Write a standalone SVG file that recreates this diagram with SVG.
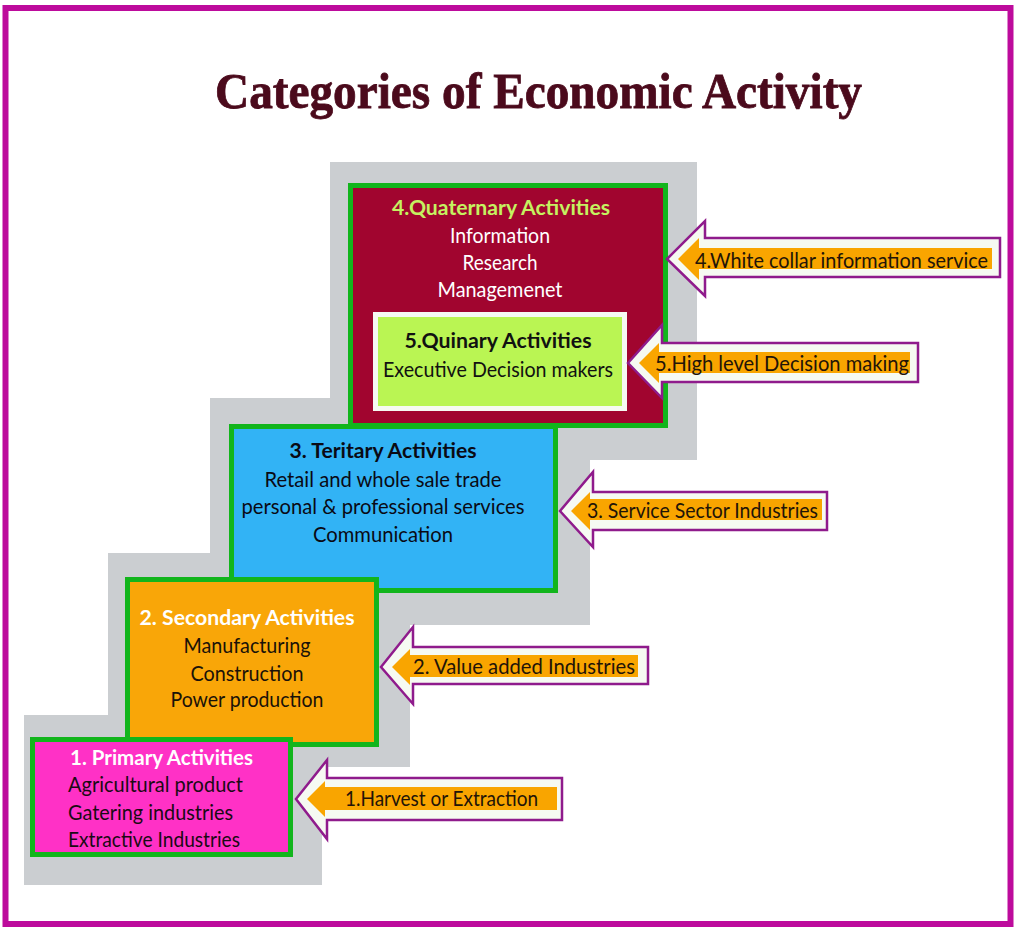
<svg xmlns="http://www.w3.org/2000/svg" width="1016" height="929" viewBox="0 0 1016 929">
<style>
.box{stroke:#12B51C;stroke-width:5}
.t{font-family:Lato,"Open Sans","Noto Sans",sans-serif;font-size:21px}
.b{font-weight:bold}
.c{text-anchor:middle}
.arr{fill:#F6FAF2;stroke:#8F1B8C;stroke-width:2.5;stroke-linejoin:miter}
.org{fill:#F9A500}
.at{font-family:Lato,"Open Sans","Noto Sans",sans-serif;font-size:21px;fill:#221408}
</style>
<rect x="0" y="0" width="1016" height="929" fill="#FFFFFF"/>
<rect id="frame" x="5.5" y="8" width="1005" height="916" fill="none" stroke="#BD0B9C" stroke-width="6"/>
<text id="title" x="215" y="108" font-family="'Liberation Serif',serif" font-weight="bold" font-size="50" fill="#4B0A1C" stroke="#4B0A1C" stroke-width="0.8" textLength="647" lengthAdjust="spacingAndGlyphs">Categories of Economic Activity</text>
<polygon id="stairs" fill="#CBCED1" points="330,162 697,162 697,460 590,460 590,625 410,625 410,767 322,767 322,885 24,885 24,715 108,715 108,553 210,553 210,398 330,398"/>

<g id="quaternary">
<rect class="box" x="350.5" y="185.5" width="315" height="240" fill="#A1052F"/>
<text class="t b c" x="501" y="215" fill="#C5F260" textLength="218" lengthAdjust="spacingAndGlyphs">4.Quaternary Activities</text>
<text class="t c" x="500" y="243" fill="#FFFFFF" textLength="100" lengthAdjust="spacingAndGlyphs">Information</text>
<text class="t c" x="500" y="270" fill="#FFFFFF" textLength="75" lengthAdjust="spacingAndGlyphs">Research</text>
<text class="t c" x="500" y="297" fill="#FFFFFF" textLength="125" lengthAdjust="spacingAndGlyphs">Managemenet</text>
</g>
<g id="quinary">
<rect x="375.5" y="314.5" width="249" height="94" fill="#BAF553" stroke="#F6FAF2" stroke-width="5"/>
<text class="t b c" x="498" y="348" fill="#111111" textLength="187" lengthAdjust="spacingAndGlyphs">5.Quinary Activities</text>
<text class="t c" x="498" y="377" fill="#111111" textLength="230" lengthAdjust="spacingAndGlyphs">Executive Decision makers</text>
</g>
<g id="tertiary">
<rect class="box" x="231.5" y="426.5" width="324" height="164" fill="#32B3F5"/>
<text class="t b c" x="383" y="458" fill="#0A0A14" textLength="187" lengthAdjust="spacingAndGlyphs">3. Teritary Activities</text>
<text class="t c" x="383" y="487" fill="#0A0A14" textLength="237" lengthAdjust="spacingAndGlyphs">Retail and whole sale trade</text>
<text class="t c" x="383" y="514" fill="#0A0A14" textLength="283" lengthAdjust="spacingAndGlyphs">personal &amp; professional services</text>
<text class="t c" x="383" y="542" fill="#0A0A14" textLength="140" lengthAdjust="spacingAndGlyphs">Communication</text>
</g>
<g id="secondary">
<rect class="box" x="127.5" y="579.5" width="249" height="165" fill="#F9A608"/>
<text class="t b c" x="247" y="625" fill="#FFFFFF" textLength="215" lengthAdjust="spacingAndGlyphs">2. Secondary Activities</text>
<text class="t c" x="247" y="653" fill="#1A1208" textLength="127" lengthAdjust="spacingAndGlyphs">Manufacturing</text>
<text class="t c" x="247" y="681" fill="#1A1208" textLength="113" lengthAdjust="spacingAndGlyphs">Construction</text>
<text class="t c" x="247" y="707" fill="#1A1208" textLength="153" lengthAdjust="spacingAndGlyphs">Power production</text>
</g>
<g id="primary">
<rect class="box" x="32.5" y="739.5" width="258" height="115" fill="#FF31C6"/>
<text class="t b" x="70" y="765" fill="#FFFFFF" textLength="183" lengthAdjust="spacingAndGlyphs">1. Primary Activities</text>
<text class="t" x="68" y="792" fill="#1A0A14" textLength="175" lengthAdjust="spacingAndGlyphs">Agricultural product</text>
<text class="t" x="68" y="820" fill="#1A0A14" textLength="165" lengthAdjust="spacingAndGlyphs">Gatering industries</text>
<text class="t" x="68" y="847" fill="#1A0A14" textLength="172" lengthAdjust="spacingAndGlyphs">Extractive Industries</text>
</g>

<g id="connectors">
<g id="arrow4">
<polygon class="arr" points="667,259 705,221 705,238 1000,238 1000,277 705,277 705,296"/>
<polygon class="org" points="678,259 699,238 699,248 992,248 992,269 699,269 699,280"/>
<text class="at" x="695" y="268" textLength="293" lengthAdjust="spacingAndGlyphs">4.White collar information service</text>
</g>
<g id="arrow5">
<polygon class="arr" points="628,363 662,325 662,343 918,343 918,382 662,382 662,398"/>
<polygon class="org" points="639,363 659,343 659,352 910,352 910,373 659,373 659,383"/>
<text class="at" x="655" y="371" textLength="254" lengthAdjust="spacingAndGlyphs">5.High level Decision making</text>
</g>
<g id="arrow3">
<polygon class="arr" points="560,511 593,472 593,492 827,492 827,530 593,530 593,547"/>
<polygon class="org" points="571,511 590,492 590,499 822,499 822,520 590,520 590,530"/>
<text class="at" x="587" y="518" textLength="231" lengthAdjust="spacingAndGlyphs">3. Service Sector Industries</text>
</g>
<g id="arrow2">
<polygon class="arr" points="381,667 413,627 413,647 648,647 648,684 413,684 413,704"/>
<polygon class="org" points="392,667 410,649 410,655 638,655 638,677 410,677 410,685"/>
<text class="at" x="413" y="674" textLength="222" lengthAdjust="spacingAndGlyphs">2. Value added Industries</text>
</g>
<g id="arrow1">
<polygon class="arr" points="296,799 327,760 327,778 562,778 562,820 327,820 327,839"/>
<polygon class="org" points="307,799 325,781 325,787 557,787 557,810 325,810 325,817"/>
<text class="at" x="345" y="806" textLength="193" lengthAdjust="spacingAndGlyphs">1.Harvest or Extraction</text>
</g>
</g>
</svg>
